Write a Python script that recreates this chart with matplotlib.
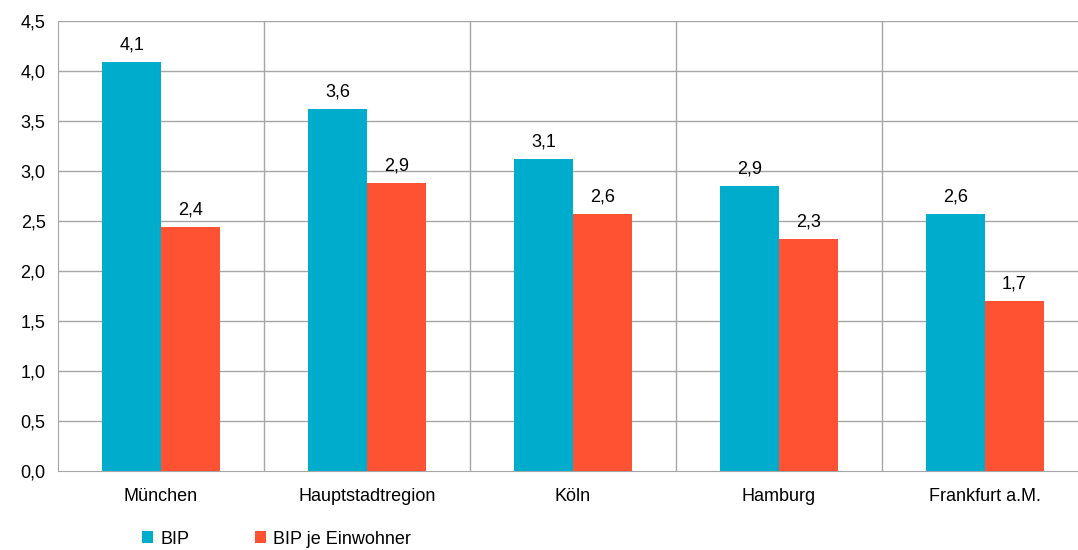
import numpy as np
import matplotlib.pyplot as plt

plt.rcParams['font.family'] = ['Liberation Sans', 'DejaVu Sans']

# Daten
staedte = ["München", "Hauptstadtregion", "Köln", "Hamburg", "Frankfurt a.M."]
bip = [4.09, 3.62, 3.12, 2.85, 2.57]
bip_je_einwohner = [2.44, 2.88, 2.57, 2.32, 1.70]

blau = "#00ACCB"
rot = "#FF5233"
grau = "#A6A6A6"

fig = plt.figure(figsize=(10.78, 5.5), dpi=100)
ax = fig.add_axes([58 / 1078, 79 / 550, 1030 / 1078, 450 / 550])

x = np.arange(len(staedte))
w = 0.285
b1 = ax.bar(x - w / 2, bip, w, color=blau, label="BIP", zorder=3)
b2 = ax.bar(x + w / 2, bip_je_einwohner, w, color=rot, label="BIP je Einwohner", zorder=3)

def fmt(v):
    return ("%.1f" % v).replace(".", ",")

for bars, vals in [(b1, bip), (b2, bip_je_einwohner)]:
    for r, v in zip(bars, vals):
        ax.annotate(fmt(v), (r.get_x() + r.get_width() / 2, v),
                    xytext=(0, 6), textcoords="offset points",
                    ha="center", va="bottom", fontsize=13, color="#000000")

ax.set_ylim(0, 4.5)
ax.set_xlim(-0.5, len(staedte) - 0.5)
ax.set_yticks(np.arange(0, 4.51, 0.5))
ax.set_yticklabels([fmt(t) for t in np.arange(0, 4.51, 0.5)], fontsize=13)
ax.set_xticks(x)
ax.set_xticklabels(staedte, fontsize=13)
ax.tick_params(axis="y", length=0, pad=9)
ax.tick_params(axis="x", length=0, pad=12)

# Gitterlinien
for yv in np.arange(0.5, 4.51, 0.5):
    ax.axhline(yv, color=grau, lw=1, zorder=1)
for xv in np.arange(0.5, len(staedte) - 0.4, 1):
    ax.axvline(xv, color=grau, lw=1, zorder=1)

for s in ["top", "right"]:
    ax.spines[s].set_visible(False)
ax.spines["left"].set_color(grau)
ax.spines["bottom"].set_color(grau)

fig.legend(loc="lower left", bbox_to_anchor=(126 / 1078, -0.025), ncol=2,
           frameon=False, fontsize=13, handlelength=0.6, handleheight=0.6,
           handletextpad=0.4, columnspacing=3.65)

plt.savefig("out.png", dpi=100)
